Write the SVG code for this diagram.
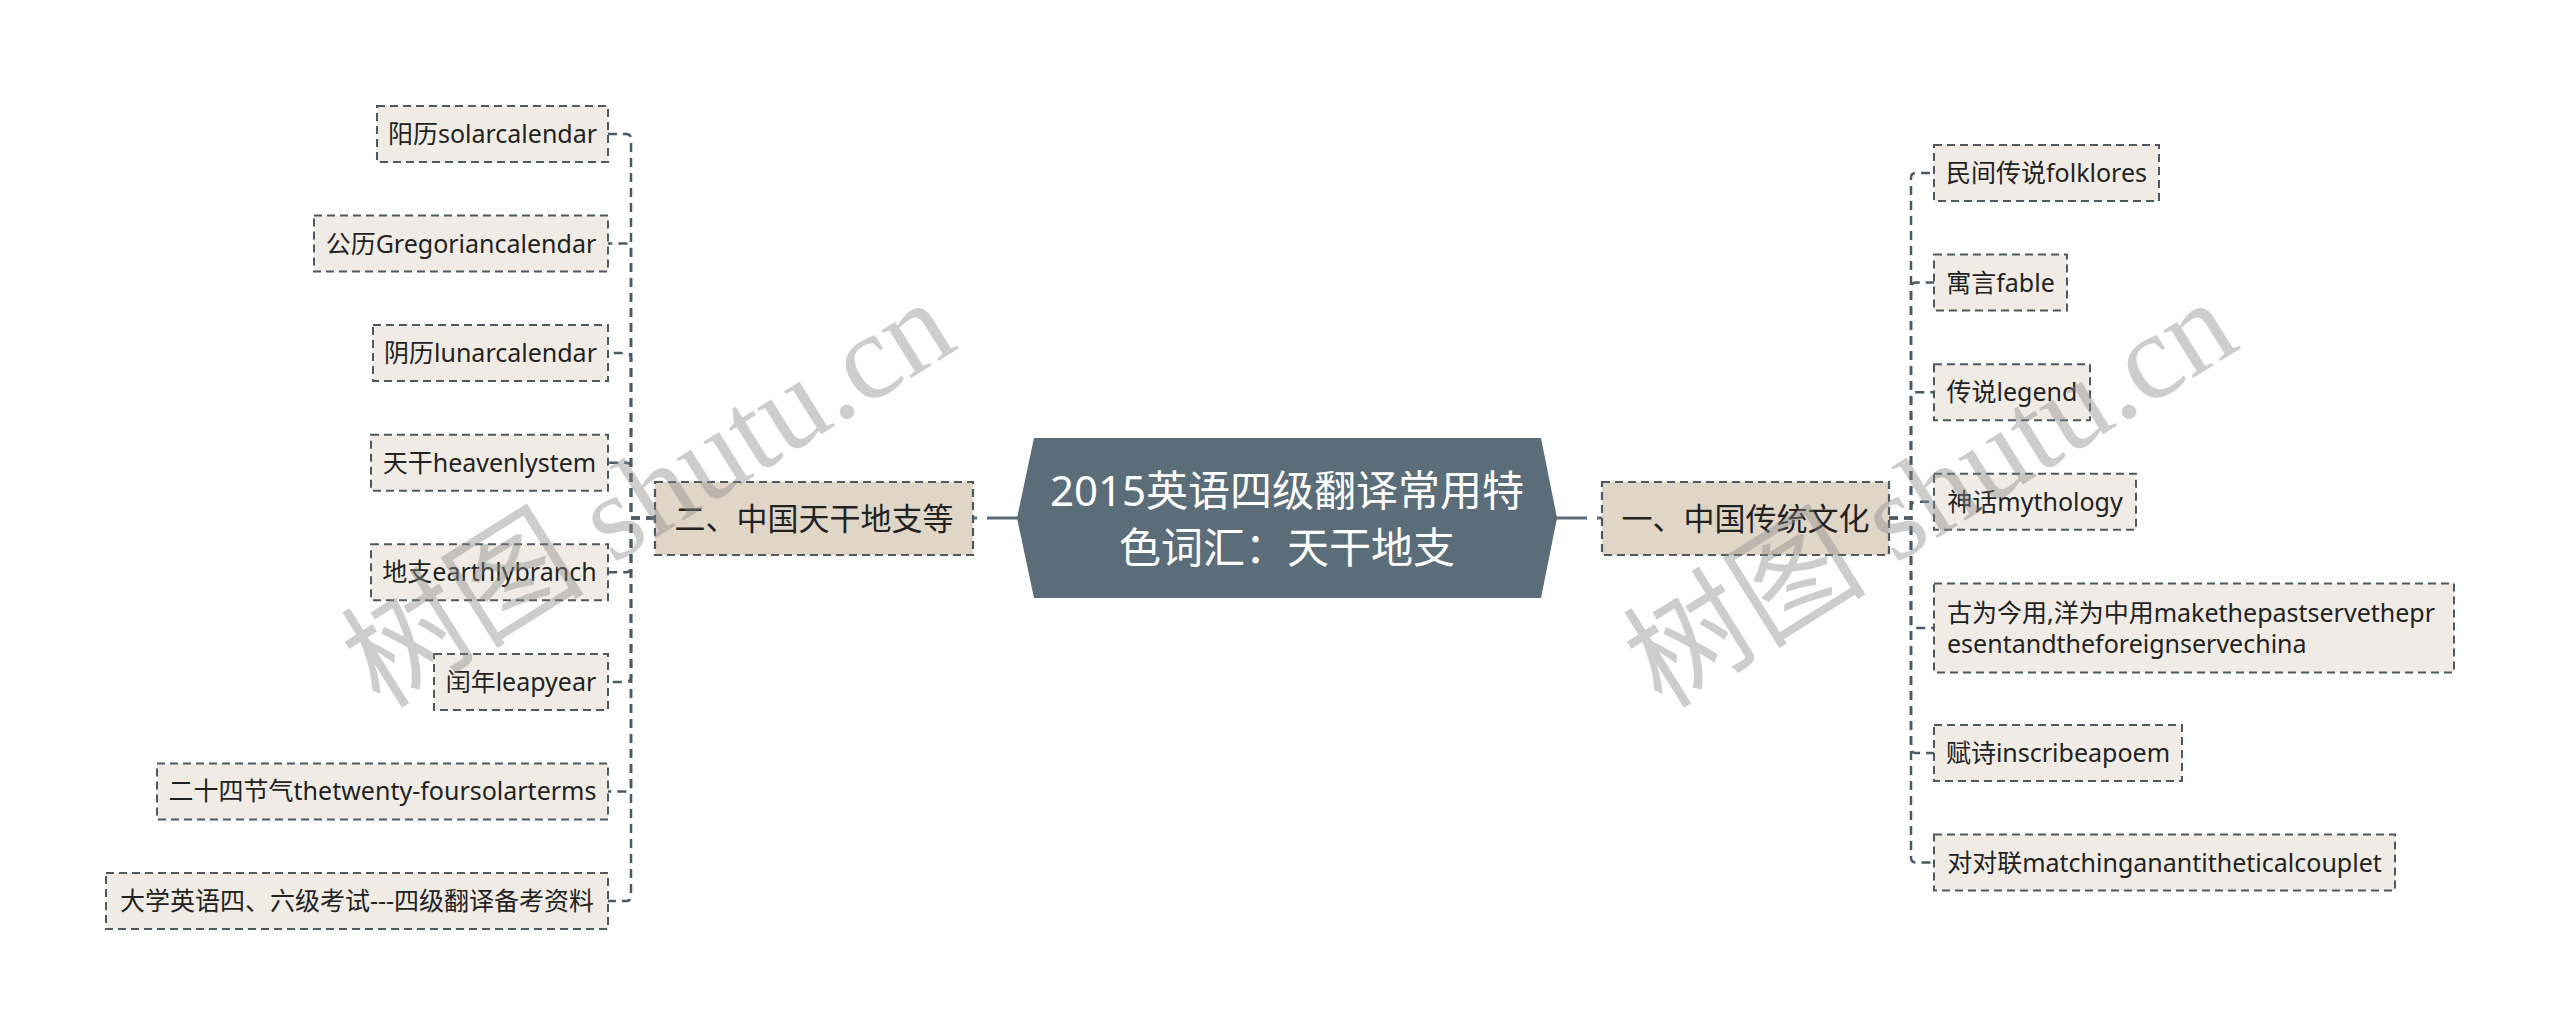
<svg xmlns="http://www.w3.org/2000/svg" width="2560" height="1036" viewBox="0 0 2560 1036">
<style>
.bg{fill:#ffffff}
.leaf{fill:#f0ece5;stroke:#4d5961;stroke-width:2;stroke-dasharray:8 5}
.branch{fill:#e0d6c8;stroke:#4d5961;stroke-width:2.2;stroke-dasharray:8 5}
.center{fill:#5b6d79}
.t{font-family:"Noto Sans","Noto Sans CJK SC",sans-serif;fill:#222222}
.lt{font-size:25px;text-anchor:middle}
.bt{font-size:31px;text-anchor:middle}
.ct{font-family:"Noto Sans","Noto Sans CJK SC",sans-serif;font-size:42px;fill:#ffffff;text-anchor:middle}
.conn{fill:none;stroke:#4d5961;stroke-width:2.5;stroke-dasharray:9 6}
.main{fill:none;stroke:#5b6d79;stroke-width:3;stroke-dasharray:31 10}
.wm{font-family:"Liberation Serif","Noto Sans CJK SC",serif;font-size:122px;fill:#888888;fill-opacity:0.42}
</style>
<rect class="bg" x="0" y="0" width="2560" height="1036"/>

<g id="connectors">
  <path class="main" d="M1018 518 H972"/>
  <path class="main" d="M1556 518 H1602"/>
  <!-- left -->
  <path class="conn" d="M655 518 H631 V139 Q631 134 626 134 H608"/>
  <path class="conn" d="M655 518 H631 V248.6 Q631 243.6 626 243.6 H608"/>
  <path class="conn" d="M655 518 H631 V358.1 Q631 353.1 626 353.1 H608"/>
  <path class="conn" d="M655 518 H631 V467.7 Q631 462.7 626 462.7 H608"/>
  <path class="conn" d="M655 518 H631 V567.3 Q631 572.3 626 572.3 H608"/>
  <path class="conn" d="M655 518 H631 V676.9 Q631 681.9 626 681.9 H608"/>
  <path class="conn" d="M655 518 H631 V786.4 Q631 791.4 626 791.4 H608"/>
  <path class="conn" d="M655 518 H631 V896 Q631 901 626 901 H608"/>
  <!-- right -->
  <path class="conn" d="M1889 518 H1911 V178 Q1911 173 1916 173 H1934"/>
  <path class="conn" d="M1889 518 H1911 V287.6 Q1911 282.6 1916 282.6 H1934"/>
  <path class="conn" d="M1889 518 H1911 V397.2 Q1911 392.2 1916 392.2 H1934"/>
  <path class="conn" d="M1889 518 H1911 V506.8 Q1911 501.8 1916 501.8 H1934"/>
  <path class="conn" d="M1889 518 H1911 V622.9 Q1911 627.9 1916 627.9 H1934"/>
  <path class="conn" d="M1889 518 H1911 V748 Q1911 753 1916 753 H1934"/>
  <path class="conn" d="M1889 518 H1911 V857.6 Q1911 862.6 1916 862.6 H1934"/>
</g>

<g id="center">
  <polygon class="center" points="1034,438 1541,438 1557,518 1541,598 1034,598 1017,518"/>
  <text class="ct" x="1287" y="506">2015英语四级翻译常用特</text>
  <text class="ct" x="1287" y="563">色词汇：天干地支</text>
</g>

<g id="branch-left">
  <rect class="branch" x="655" y="482" width="318" height="73"/>
  <text class="t bt" x="814" y="530">二、中国天干地支等</text>
</g>
<g id="branch-right">
  <rect class="branch" x="1602" y="482" width="287" height="73"/>
  <text class="t bt" x="1745.5" y="530">一、中国传统文化</text>
</g>

<g id="leaf-l1"><rect class="leaf" x="377" y="106" width="231" height="56"/><text class="t lt" x="492.5" y="143">阳历solarcalendar</text></g>
<g id="leaf-l2"><rect class="leaf" x="314" y="215.6" width="294" height="56"/><text class="t lt" x="461" y="252.6">公历Gregoriancalendar</text></g>
<g id="leaf-l3"><rect class="leaf" x="373" y="325.1" width="235" height="56"/><text class="t lt" x="490.5" y="362.1">阴历lunarcalendar</text></g>
<g id="leaf-l4"><rect class="leaf" x="371" y="434.7" width="237" height="56"/><text class="t lt" x="489.5" y="471.7">天干heavenlystem</text></g>
<g id="leaf-l5"><rect class="leaf" x="371" y="544.3" width="237" height="56"/><text class="t lt" x="489.5" y="581.3">地支earthlybranch</text></g>
<g id="leaf-l6"><rect class="leaf" x="434" y="653.9" width="174" height="56"/><text class="t lt" x="521" y="690.9">闰年leapyear</text></g>
<g id="leaf-l7"><rect class="leaf" x="157" y="763.4" width="451" height="56"/><text class="t lt" x="382.5" y="800.4">二十四节气thetwenty-foursolarterms</text></g>
<g id="leaf-l8"><rect class="leaf" x="106" y="873" width="502" height="56"/><text class="t lt" x="357" y="910">大学英语四、六级考试---四级翻译备考资料</text></g>

<g id="leaf-r1"><rect class="leaf" x="1934" y="145" width="225" height="56"/><text class="t lt" x="2046.5" y="182">民间传说folklores</text></g>
<g id="leaf-r2"><rect class="leaf" x="1934" y="254.6" width="133" height="56"/><text class="t lt" x="2000.5" y="291.6">寓言fable</text></g>
<g id="leaf-r3"><rect class="leaf" x="1934" y="364.2" width="156" height="56"/><text class="t lt" x="2012" y="401.2">传说legend</text></g>
<g id="leaf-r4"><rect class="leaf" x="1934" y="473.8" width="202" height="56"/><text class="t lt" x="2035" y="510.8">神话mythology</text></g>
<g id="leaf-r5"><rect class="leaf" x="1934" y="583.4" width="520" height="89"/><text class="t" font-size="25" x="1947" y="621.5">古为今用,洋为中用makethepastservethepr</text><text class="t" font-size="25" x="1947" y="652.5">esentandtheforeignservechina</text></g>
<g id="leaf-r6"><rect class="leaf" x="1934" y="725" width="248" height="56"/><text class="t lt" x="2058" y="762">赋诗inscribeapoem</text></g>
<g id="leaf-r7"><rect class="leaf" x="1934" y="834.6" width="461" height="56"/><text class="t lt" x="2164.5" y="871.6">对对联matchinganantitheticalcouplet</text></g>

<g id="watermarks">
  <text class="wm" transform="translate(380,710) rotate(-32)">树图 shutu.cn</text>
  <text class="wm" transform="translate(1662,710) rotate(-32)">树图 shutu.cn</text>
</g>
</svg>
